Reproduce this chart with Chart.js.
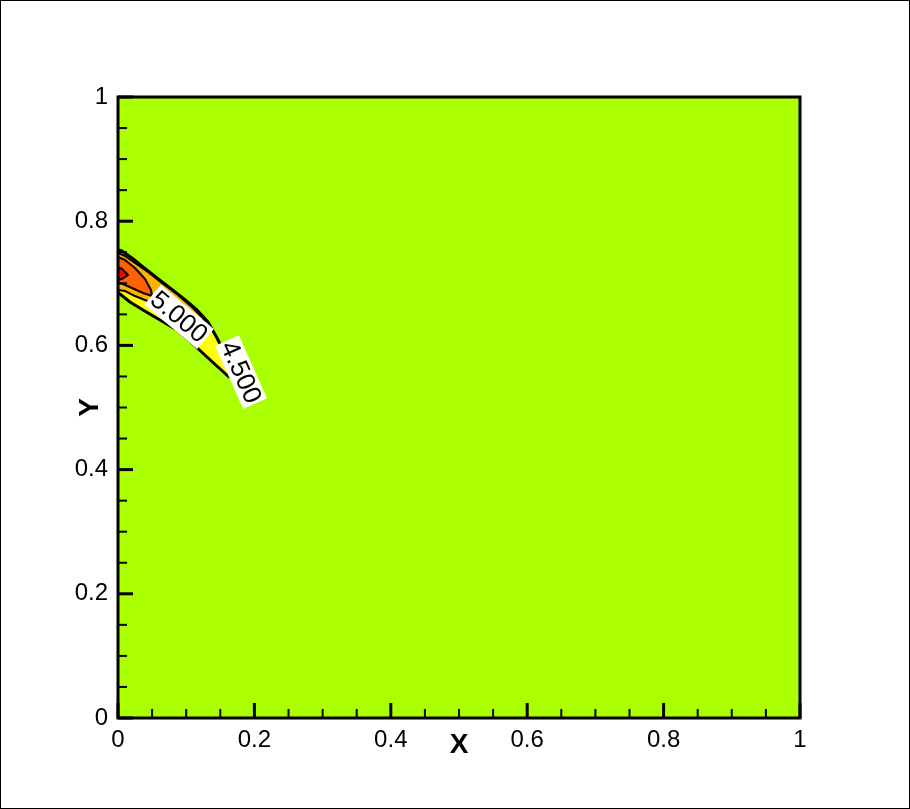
<!DOCTYPE html>
<html>
<head>
<meta charset="utf-8">
<script src="https://cdn.jsdelivr.net/npm/chart.js@4/dist/chart.umd.min.js"></script>
<style>
    html, body { margin: 0; padding: 0; background: #fff; }
    #wrap { position: relative; width: 910px; height: 809px; }
    #frame { position: absolute; left: 0; top: 0; width: 910px; height: 809px; box-sizing: border-box; border: 1px solid #000; pointer-events: none; }
</style>
</head>
<body>
<div id="wrap">
    <canvas id="contourChart" width="910" height="809"></canvas>
    <div id="frame"></div>
</div>
<script>
// tick labels
const xTickLabels = ['0', '0.2', '0.4', '0.6', '0.8', '1'];
const yTickLabels = ['0', '0.2', '0.4', '0.6', '0.8', '1'];
const minorTicks = [0.05, 0.1, 0.15, 0.25, 0.3, 0.35, 0.45, 0.5, 0.55, 0.65, 0.7, 0.75, 0.85, 0.9, 0.95];

// contour levels (outer to inner)
const levels = [4.5, 5.0, 5.5, 6.0];

// contour line 4.5
const c45x = [0, 0.0059, 0.0205, 0.0367, 0.0572, 0.0762, 0.0968, 0.1158, 0.1320, 0.1452, 0.1554, 0.1613, 0.1628,
    0.1466, 0.1305, 0.1085, 0.0865, 0.0616, 0.0367, 0.0176, 0.0029, 0, 0];
const c45y = [0.7536, 0.7520, 0.7407, 0.7262, 0.7085, 0.6924, 0.6747, 0.6570, 0.6377, 0.6119, 0.5894, 0.5684, 0.5491,
    0.5652, 0.5813, 0.6039, 0.6248, 0.6409, 0.6570, 0.6699, 0.6828, 0.6844, 0.7536];

// contour line 5.0
const c50x = [0, 0.0103, 0.0249, 0.0440, 0.0645, 0.0880, 0.1085, 0.1246, 0.1320,
    0.1129, 0.0909, 0.0689, 0.0469, 0.0249, 0.0103, 0, 0];
const c50y = [0.7488, 0.7440, 0.7327, 0.7182, 0.7005, 0.6812, 0.6618, 0.6441, 0.6280,
    0.6329, 0.6441, 0.6570, 0.6699, 0.6795, 0.6876, 0.6892, 0.7488];

// contour line 5.5
const c55x = [0, 0.0103, 0.0249, 0.0396, 0.0484, 0.0499, 0.0367, 0.0205, 0.0073, 0, 0];
const c55y = [0.7424, 0.7375, 0.7246, 0.7069, 0.6892, 0.6795, 0.6844, 0.6924, 0.6989, 0.7005, 0.7424];

// contour line 6.0
const c60x = [0, 0.0059, 0.0147, 0.0059, 0, 0];
const c60y = [0.7262, 0.7230, 0.7134, 0.7069, 0.7053, 0.7262];

// contour labels
const labelText = ['5.000', '4.500'];
const labelX = [0.0895, 0.1804];
const labelY = [0.646, 0.557];

const contourX = [c45x, c50x, c55x, c60x];
const contourY = [c45y, c50y, c55y, c60y];
const fillColors = ['#ffff00', '#ffb000', '#ff6000', '#ff0000'];
const lineWidths = [3, 2, 2, 2];
const labelAngles = [40, 66];

const toPoints = (xs, ys) => xs.map((x, i) => ({ x: x, y: ys[i] }));

const datasets = levels.map((lvl, i) => ({
    label: lvl.toFixed(3),
    data: toPoints(contourX[i], contourY[i]),
    showLine: true,
    fill: 'shape',
    backgroundColor: fillColors[i],
    borderColor: '#000',
    borderWidth: lineWidths[i],
    borderJoinStyle: 'round',
    pointRadius: 0,
    tension: 0,
    order: levels.length - i
}));

// background, frame, inner ticks, contour labels, axis titles
const tecplotPlugin = {
    id: 'tecplot',
    beforeDatasetsDraw(chart) {
        const { ctx, chartArea: a } = chart;
        ctx.save();
        ctx.fillStyle = '#aaff00';
        ctx.fillRect(a.left, a.top, a.right - a.left, a.bottom - a.top);
        ctx.restore();
    },
    afterDatasetsDraw(chart) {
        const { ctx, chartArea: a, scales } = chart;
        const xs = scales.x, ys = scales.y;
        ctx.save();

        // contour labels
        ctx.font = '26px "Liberation Sans", Arial, sans-serif';
        ctx.textAlign = 'center';
        ctx.textBaseline = 'middle';
        labelText.forEach((t, i) => {
            const px = xs.getPixelForValue(labelX[i]);
            const py = ys.getPixelForValue(labelY[i]);
            const w = ctx.measureText(t).width;
            ctx.save();
            ctx.translate(px, py);
            ctx.rotate(labelAngles[i] * Math.PI / 180);
            ctx.fillStyle = '#fff';
            ctx.fillRect(-w / 2 - 2, -13, w + 4, 26);
            ctx.fillStyle = '#000';
            ctx.fillText(t, 0, 1);
            ctx.restore();
        });

        // ticks inside the frame
        ctx.strokeStyle = '#000';
        const drawTick = (v, major) => {
            const len = major ? 15 : 9;
            ctx.lineWidth = major ? 3 : 2;
            const px = xs.getPixelForValue(v);
            ctx.beginPath();
            ctx.moveTo(px, a.bottom);
            ctx.lineTo(px, a.bottom - len);
            ctx.stroke();
            const py = ys.getPixelForValue(v);
            ctx.beginPath();
            ctx.moveTo(a.left, py);
            ctx.lineTo(a.left + len, py);
            ctx.stroke();
        };
        minorTicks.forEach(v => drawTick(v, false));
        xs.ticks.forEach(t => drawTick(t.value, true));

        // frame
        ctx.lineWidth = 3;
        ctx.strokeRect(a.left, a.top, a.right - a.left, a.bottom - a.top);

        // axis titles
        ctx.fillStyle = '#000';
        ctx.font = 'bold 28px "Liberation Sans", Arial, sans-serif';
        ctx.textAlign = 'center';
        ctx.textBaseline = 'middle';
        ctx.fillText('X', (a.left + a.right) / 2, 745);
        ctx.translate(90, (a.top + a.bottom) / 2);
        ctx.rotate(-Math.PI / 2);
        ctx.fillText('Y', 0, 0);
        ctx.restore();
    }
};

const tickFont = { family: '"Liberation Sans", Arial, sans-serif', size: 24 };

new Chart(document.getElementById('contourChart').getContext('2d'), {
    type: 'scatter',
    data: { datasets: datasets },
    options: {
        responsive: false,
        animation: false,
        layout: { padding: { left: 0, top: 97, right: 110, bottom: 0 } },
        plugins: {
            legend: { display: false },
            tooltip: { enabled: false }
        },
        scales: {
            x: {
                type: 'linear',
                min: 0,
                max: 1,
                afterFit: s => { s.height = 91; },
                grid: { display: false, drawTicks: false },
                border: { display: false },
                ticks: {
                    stepSize: 0.2,
                    autoSkip: false,
                    maxRotation: 0,
                    padding: 8,
                    color: '#000',
                    font: tickFont,
                    callback: (v, i) => xTickLabels[i]
                }
            },
            y: {
                type: 'linear',
                min: 0,
                max: 1,
                afterFit: s => { s.width = 118; },
                grid: { display: false, drawTicks: false },
                border: { display: false },
                ticks: {
                    stepSize: 0.2,
                    autoSkip: false,
                    padding: 10,
                    color: '#000',
                    font: tickFont,
                    callback: (v, i) => yTickLabels[i]
                }
            }
        }
    },
    plugins: [tecplotPlugin]
});
</script>
</body>
</html>
